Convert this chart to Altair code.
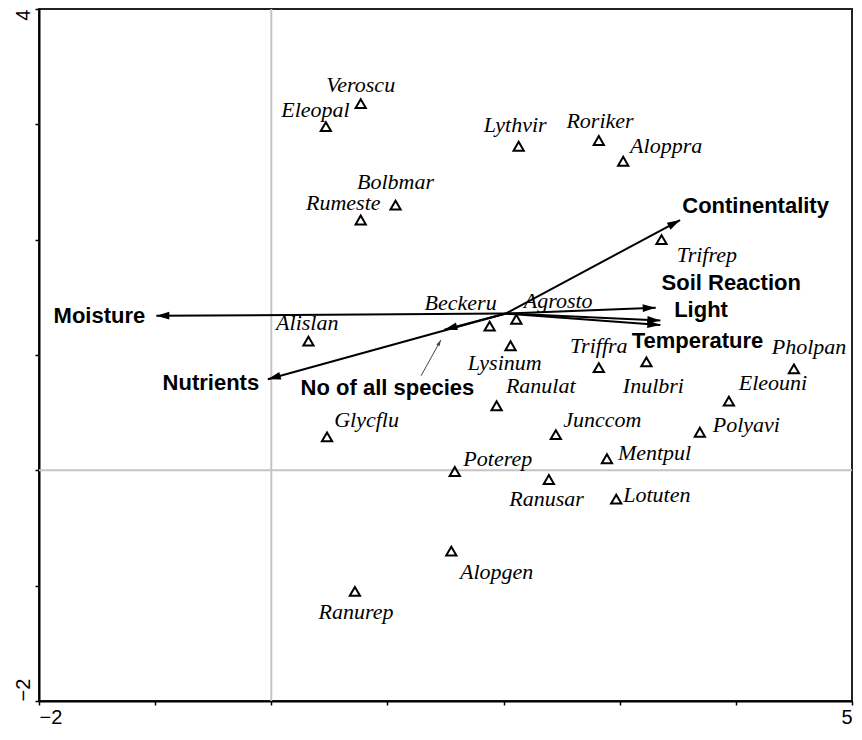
import altair as alt
import pandas as pd
import numpy as np

# ---- species scores ----
species = ["Veroscu", "Eleopal", "Lythvir", "Roriker", "Aloppra", "Bolbmar", "Rumeste",
           "Trifrep", "Alislan", "Beckeru", "Agrosto", "Lysinum", "Triffra", "Inulbri",
           "Pholpan", "Eleouni", "Polyavi", "Junccom", "Ranulat", "Mentpul", "Poterep",
           "Ranusar", "Lotuten", "Alopgen", "Glycflu", "Ranurep"]
sp_x = [0.77, 0.47, 2.13, 2.82, 3.03, 1.07, 0.77, 3.36, 0.32, 1.88, 2.11, 2.06, 2.82,
        3.23, 4.50, 3.94, 3.69, 2.45, 1.94, 2.89, 1.58, 2.39, 2.97, 1.55, 0.48, 0.72]
sp_y = [3.18, 2.98, 2.81, 2.86, 2.68, 2.30, 2.17, 2.00, 1.12, 1.25, 1.31, 1.08, 0.89,
        0.94, 0.88, 0.60, 0.33, 0.31, 0.56, 0.10, -0.01, -0.08, -0.25, -0.70, 0.29, -1.05]
# label anchor points (data units)
sp_lx = [0.77, 0.38, 2.10, 2.83, 3.40, 1.07, 0.62, 3.75, 0.31, 1.63, 2.47, 2.01, 2.82,
         3.29, 4.63, 4.32, 4.09, 2.85, 2.32, 3.30, 1.95, 2.37, 3.32, 1.94, 0.82, 0.73]
sp_ly = [3.34, 3.12, 2.99, 3.03, 2.81, 2.50, 2.32, 1.87, 1.28, 1.45, 1.47, 0.93, 1.08,
         0.73, 1.07, 0.76, 0.39, 0.44, 0.73, 0.15, 0.10, -0.25, -0.21, -0.88, 0.44, -1.23]

# ---- environmental arrows ----
env = ["Moisture", "Nutrients", "No of all species", "Continentality",
       "Soil Reaction", "Light", "Temperature"]
origin_x = 2.02
origin_y = 1.36
env_x = [-0.99, -0.03, 1.49, 3.52, 3.31, 3.35, 3.35]
env_y = [1.34, 0.79, 1.22, 2.17, 1.41, 1.30, 1.26]
env_lx = [-1.48, -0.52, 1.00, 4.17, 3.96, 3.70, 3.67]
env_ly = [1.34, 0.76, 0.71, 2.29, 1.62, 1.39, 1.12]

# leader line for "No of all species"
lead_x0, lead_y0 = 1.29, 0.82
lead_x1, lead_y1 = 1.46, 1.13

x_ticks = [-2, -1, 0, 1, 2, 3, 4, 5]
y_ticks = [-2, -1, 0, 1, 2, 3, 4]

# ---- tables ----
sp_df = pd.DataFrame({"name": species, "x": sp_x, "y": sp_y, "lx": sp_lx, "ly": sp_ly})
ex = np.array(env_x)
ey = np.array(env_y)
ang = (90 - np.degrees(np.arctan2(ey - origin_y, ex - origin_x))) % 360
env_df = pd.DataFrame({"name": env, "x0": origin_x, "y0": origin_y, "x": env_x, "y": env_y,
                       "lx": env_lx, "ly": env_ly, "ang": ang})
lead_ang = (90 - np.degrees(np.arctan2(lead_y1 - lead_y0, lead_x1 - lead_x0))) % 360
lead_df = pd.DataFrame({"x0": [lead_x0], "y0": [lead_y0], "x": [lead_x1], "y": [lead_y1],
                        "ang": [lead_ang]})

xs = alt.Scale(domain=[-2, 5], nice=False, zero=False)
ys = alt.Scale(domain=[-2, 4], nice=False, zero=False)

x_axis = alt.Axis(values=x_ticks, grid=False, labelFlush=True,
                  labelExpr="datum.value == -2 || datum.value == 5 ? datum.label : ''",
                  domainColor="black", domainWidth=2, tickColor="black", tickWidth=1.5,
                  tickSize=4, labelFont="Liberation Sans", labelFontSize=20,
                  labelColor="black", labelPadding=2)
y_axis = alt.Axis(values=y_ticks, grid=False, labelAngle=-90,
                  labelExpr="datum.value == -2 || datum.value == 4 ? datum.label : ''",
                  labelAlign={"condition": {"test": "datum.value == 4", "value": "right"},
                              "value": "left"},
                  labelBaseline="bottom",
                  domainColor="black", domainWidth=2, tickColor="black", tickWidth=1.5,
                  tickSize=4, labelFont="Liberation Sans", labelFontSize=20,
                  labelColor="black", labelPadding=2)

X = alt.X("x:Q", scale=xs, axis=x_axis, title=None)
Y = alt.Y("y:Q", scale=ys, axis=y_axis, title=None)

zero_v = alt.Chart(pd.DataFrame({"x": [0]})).mark_rule(color="#c4c4c4", strokeWidth=2).encode(x=X)
zero_h = alt.Chart(pd.DataFrame({"y": [0]})).mark_rule(color="#c4c4c4", strokeWidth=2).encode(y=Y)

shafts = alt.Chart(env_df).mark_rule(color="black", strokeWidth=2).encode(
    x=alt.X("x0:Q", scale=xs, axis=x_axis, title=None),
    y=alt.Y("y0:Q", scale=ys, axis=y_axis, title=None),
    x2="x:Q", y2="y:Q")

head_shape = "M0,0L-0.6,2L0.6,2Z"
heads = alt.Chart(env_df).mark_point(shape=head_shape, filled=True, color="black",
                                     opacity=1, size=169, strokeWidth=0).encode(
    x=X, y=Y, angle=alt.Angle("ang:Q", scale=None))

lead_line = alt.Chart(lead_df).mark_rule(color="#444", strokeWidth=1).encode(
    x=alt.X("x0:Q", scale=xs, axis=x_axis, title=None),
    y=alt.Y("y0:Q", scale=ys, axis=y_axis, title=None),
    x2="x:Q", y2="y:Q")
lead_head = alt.Chart(lead_df).mark_point(shape=head_shape, filled=True, color="#444",
                                          opacity=1, size=36, strokeWidth=0).encode(
    x=X, y=Y, angle=alt.Angle("ang:Q", scale=None))

pts = alt.Chart(sp_df).mark_point(shape="triangle-up", filled=False, color="black",
                                  opacity=1, size=105, strokeWidth=2).encode(x=X, y=Y)

sp_labels = alt.Chart(sp_df).mark_text(font="Liberation Serif", fontStyle="italic",
                                       fontSize=22, color="black", align="center",
                                       baseline="middle").encode(
    x=alt.X("lx:Q", scale=xs, axis=x_axis, title=None),
    y=alt.Y("ly:Q", scale=ys, axis=y_axis, title=None),
    text="name:N")

env_labels = alt.Chart(env_df).mark_text(font="Liberation Sans", fontWeight="bold",
                                         fontSize=22, color="black", align="center",
                                         baseline="middle").encode(
    x=alt.X("lx:Q", scale=xs, axis=x_axis, title=None),
    y=alt.Y("ly:Q", scale=ys, axis=y_axis, title=None),
    text="name:N")

chart = alt.layer(zero_v, zero_h, shafts, heads, lead_line, lead_head, pts,
                  sp_labels, env_labels).properties(
    width=813, height=692,
    autosize=alt.AutoSizeParams(type="none"),
    padding={"left": 31, "top": 1, "right": 2, "bottom": 31},
    background="white",
).configure_view(stroke="#222", strokeWidth=2)

chart.save("out.html", embed_options={"renderer": "svg", "actions": False})
